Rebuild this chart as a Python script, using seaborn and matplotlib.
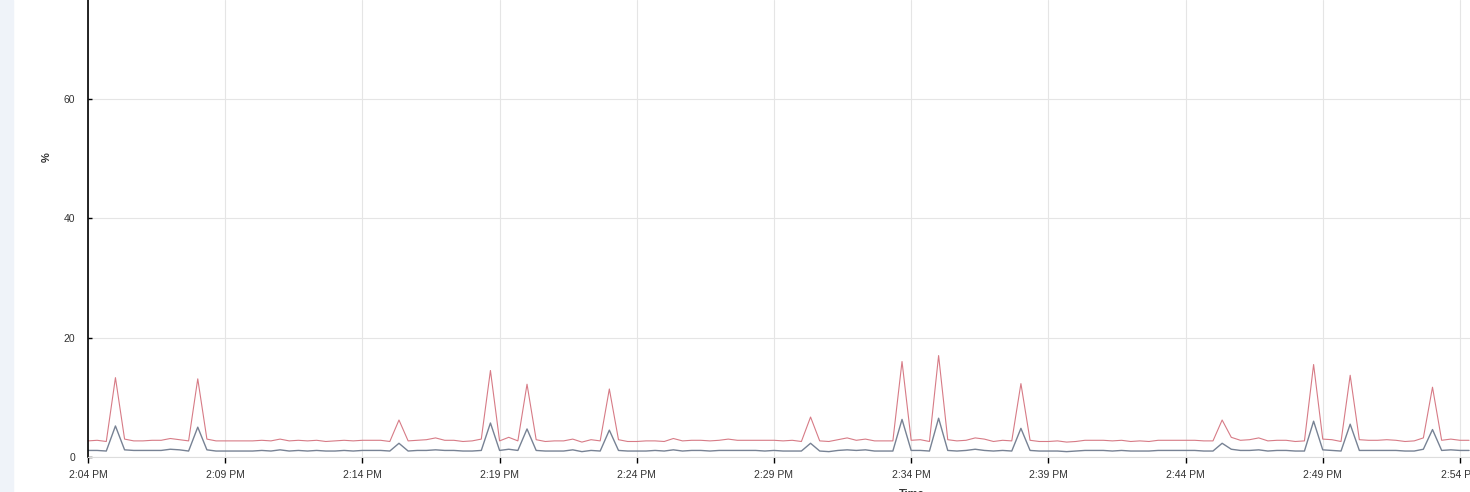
import pandas as pd
import seaborn as sns
import matplotlib.pyplot as plt
import matplotlib.dates as mdates
from matplotlib.patches import Rectangle

# samples every 20 s starting 2:04 PM
start = "2024-01-01 14:04:00"
red_vals = [
    2.7, 2.8, 2.6, 13.3, 3.0, 2.7, 2.7, 2.8, 2.8, 3.1,
    2.9, 2.7, 13.1, 3.0, 2.7, 2.7, 2.7, 2.7, 2.7, 2.8,
    2.7, 3.0, 2.7, 2.8, 2.7, 2.8, 2.6, 2.7, 2.8, 2.7,
    2.8, 2.8, 2.8, 2.6, 6.2, 2.7, 2.8, 2.9, 3.2, 2.8,
    2.8, 2.6, 2.7, 3.0, 14.5, 2.7, 3.3, 2.7, 12.2, 2.9,
    2.6, 2.7, 2.7, 3.0, 2.5, 2.9, 2.7, 11.4, 2.9, 2.6,
    2.6, 2.7, 2.7, 2.6, 3.1, 2.7, 2.8, 2.8, 2.7, 2.8,
    3.0, 2.8, 2.8, 2.8, 2.8, 2.8, 2.7, 2.8, 2.6, 6.7,
    2.7, 2.6, 2.9, 3.2, 2.8, 3.0, 2.7, 2.7, 2.7, 16.0,
    2.8, 2.9, 2.6, 17.0, 2.9, 2.7, 2.8, 3.2, 3.0, 2.6,
    2.8, 2.7, 12.3, 2.8, 2.6, 2.6, 2.7, 2.5, 2.6, 2.8,
    2.8, 2.8, 2.7, 2.8, 2.6, 2.7, 2.6, 2.8, 2.8, 2.8,
    2.8, 2.8, 2.7, 2.7, 6.2, 3.3, 2.8, 2.9, 3.2, 2.7,
    2.8, 2.8, 2.6, 2.7, 15.5, 3.0, 2.9, 2.6, 13.7, 2.9,
    2.8, 2.8, 2.9, 2.8, 2.6, 2.7, 3.2, 11.7, 2.8, 3.0,
    2.8, 2.8,
]
gray_vals = [
    1.1, 1.1, 1.0, 5.2, 1.2, 1.1, 1.1, 1.1, 1.1, 1.3,
    1.2, 1.0, 5.0, 1.2, 1.0, 1.0, 1.0, 1.0, 1.0, 1.1,
    1.0, 1.2, 1.0, 1.1, 1.0, 1.1, 1.0, 1.0, 1.1, 1.0,
    1.1, 1.1, 1.1, 1.0, 2.3, 1.0, 1.1, 1.1, 1.2, 1.1,
    1.1, 1.0, 1.0, 1.1, 5.7, 1.1, 1.3, 1.1, 4.7, 1.1,
    1.0, 1.0, 1.0, 1.2, 0.9, 1.1, 1.0, 4.5, 1.1, 1.0,
    1.0, 1.0, 1.1, 1.0, 1.2, 1.0, 1.1, 1.1, 1.0, 1.1,
    1.1, 1.1, 1.1, 1.1, 1.0, 1.1, 1.0, 1.0, 1.0, 2.3,
    1.0, 0.9, 1.1, 1.2, 1.1, 1.2, 1.0, 1.0, 1.0, 6.3,
    1.1, 1.1, 1.0, 6.5, 1.1, 1.0, 1.1, 1.3, 1.1, 1.0,
    1.1, 1.0, 4.8, 1.1, 1.0, 1.0, 1.0, 0.9, 1.0, 1.1,
    1.1, 1.1, 1.0, 1.1, 1.0, 1.0, 1.0, 1.1, 1.1, 1.1,
    1.1, 1.1, 1.0, 1.0, 2.3, 1.3, 1.1, 1.1, 1.2, 1.0,
    1.1, 1.1, 1.0, 1.0, 6.0, 1.2, 1.1, 1.0, 5.5, 1.1,
    1.1, 1.1, 1.1, 1.1, 1.0, 1.0, 1.3, 4.6, 1.1, 1.2,
    1.1, 1.1,
]
y_ticks = [0, 20, 40, 60]

times = pd.date_range(start, periods=len(red_vals), freq="20s")
df = pd.DataFrame({"Time": times, "red": red_vals, "gray": gray_vals})

sns.set_style("whitegrid")
plt.rcParams["font.family"] = ["Liberation Sans", "DejaVu Sans"]

fig = plt.figure(figsize=(14.7, 4.92), dpi=100)
fig.patches.append(Rectangle((0, 0), 13 / 1470, 1, transform=fig.transFigure,
                             color="#eff3f9", zorder=-1))
ax = fig.add_axes([88 / 1470, 1 - 457 / 492, 1 - 88 / 1470, 457 / 492])

sns.lineplot(data=df, x="Time", y="red", ax=ax, color="#d77b86", linewidth=0.8)
sns.lineplot(data=df, x="Time", y="gray", ax=ax, color="#778294", linewidth=1.0)

t0 = pd.Timestamp(start)
ax.set_xlim(t0, t0 + pd.Timedelta(seconds=50 * 60 + 22))
ax.set_ylim(0, 76.6)
ax.set_yticks(y_ticks)
ax.xaxis.set_major_locator(mdates.MinuteLocator(byminute=range(4, 60, 5)))
ax.xaxis.set_major_formatter(mdates.DateFormatter("%-I:%M %p"))

ax.grid(True, color="#e5e5e5", linewidth=0.8)
for s in ["top", "right"]:
    ax.spines[s].set_visible(False)
ax.spines["left"].set_color("black")
ax.spines["left"].set_linewidth(1.2)
ax.spines["bottom"].set_color("#dddddd")
ax.spines["bottom"].set_linewidth(0.8)

ax.tick_params(axis="x", direction="out", length=4, width=1, color="black",
               labelsize=7.5, labelcolor="#333333", pad=5, bottom=True)
ax.tick_params(axis="y", direction="in", length=3, width=1, color="black",
               labelsize=7.5, labelcolor="#333333", pad=9, left=True)

ax.set_ylabel("%", fontsize=8, color="#333333", fontweight="bold")
ax.yaxis.set_label_coords((52 - 88) / 1382, (457 - 157) / 457)
ax.set_xlabel("Time", fontsize=8, color="#333333", fontweight="bold")
ax.xaxis.set_label_coords((912 - 88) / 1382, (457 - 489) / 457)

fig.savefig("out.png", dpi=100)
